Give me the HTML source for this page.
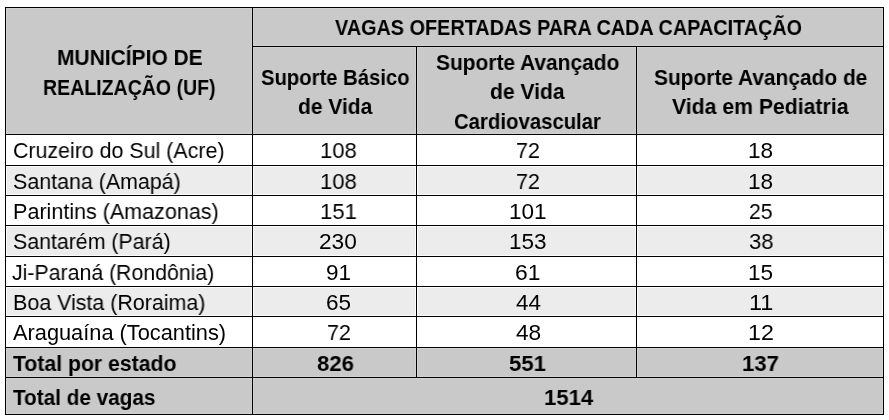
<!DOCTYPE html>
<html><head><meta charset="utf-8"><title>Vagas ofertadas</title>
<style>
html,body{margin:0;padding:0;background:#fff}
#p{position:relative;width:889px;height:420px;overflow:hidden;background:#fff;font-family:"Liberation Sans",sans-serif}
.c{position:absolute;box-sizing:border-box}
.l{position:absolute;background:#000}
span{will-change:transform;position:absolute;white-space:pre;line-height:1;font-size:21.0px;color:#000;transform-origin:0 0;font-family:"Liberation Sans",sans-serif}
.b{font-weight:bold}
.r{font-weight:normal}
</style></head>
<body><div id="p">
<div class="c" style="left:6px;top:8px;width:246px;height:126px;background:#c9c9c9;box-shadow:inset 0 0 0 1px #d3d3d3"></div>
<div class="c" style="left:253px;top:8px;width:630px;height:38px;background:#c9c9c9;box-shadow:inset 0 0 0 1px #d3d3d3"></div>
<div class="c" style="left:253px;top:47px;width:163px;height:87px;background:#c9c9c9;box-shadow:inset 0 0 0 1px #d3d3d3"></div>
<div class="c" style="left:417px;top:47px;width:219px;height:87px;background:#c9c9c9;box-shadow:inset 0 0 0 1px #d3d3d3"></div>
<div class="c" style="left:637px;top:47px;width:246px;height:87px;background:#c9c9c9;box-shadow:inset 0 0 0 1px #d3d3d3"></div>
<div class="c" style="left:6px;top:166px;width:246px;height:29px;background:#ececec;box-shadow:inset 0 0 0 1px #fbfbfb"></div>
<div class="c" style="left:253px;top:166px;width:163px;height:29px;background:#ececec;box-shadow:inset 0 0 0 1px #fbfbfb"></div>
<div class="c" style="left:417px;top:166px;width:219px;height:29px;background:#ececec;box-shadow:inset 0 0 0 1px #fbfbfb"></div>
<div class="c" style="left:637px;top:166px;width:246px;height:29px;background:#ececec;box-shadow:inset 0 0 0 1px #fbfbfb"></div>
<div class="c" style="left:6px;top:226px;width:246px;height:30px;background:#ececec;box-shadow:inset 0 0 0 1px #fbfbfb"></div>
<div class="c" style="left:253px;top:226px;width:163px;height:30px;background:#ececec;box-shadow:inset 0 0 0 1px #fbfbfb"></div>
<div class="c" style="left:417px;top:226px;width:219px;height:30px;background:#ececec;box-shadow:inset 0 0 0 1px #fbfbfb"></div>
<div class="c" style="left:637px;top:226px;width:246px;height:30px;background:#ececec;box-shadow:inset 0 0 0 1px #fbfbfb"></div>
<div class="c" style="left:6px;top:287px;width:246px;height:29px;background:#ececec;box-shadow:inset 0 0 0 1px #fbfbfb"></div>
<div class="c" style="left:253px;top:287px;width:163px;height:29px;background:#ececec;box-shadow:inset 0 0 0 1px #fbfbfb"></div>
<div class="c" style="left:417px;top:287px;width:219px;height:29px;background:#ececec;box-shadow:inset 0 0 0 1px #fbfbfb"></div>
<div class="c" style="left:637px;top:287px;width:246px;height:29px;background:#ececec;box-shadow:inset 0 0 0 1px #fbfbfb"></div>
<div class="c" style="left:6px;top:348px;width:246px;height:29px;background:#c9c9c9;box-shadow:inset 0 0 0 1px #d3d3d3"></div>
<div class="c" style="left:253px;top:348px;width:163px;height:29px;background:#c9c9c9;box-shadow:inset 0 0 0 1px #d3d3d3"></div>
<div class="c" style="left:417px;top:348px;width:219px;height:29px;background:#c9c9c9;box-shadow:inset 0 0 0 1px #d3d3d3"></div>
<div class="c" style="left:637px;top:348px;width:246px;height:29px;background:#c9c9c9;box-shadow:inset 0 0 0 1px #d3d3d3"></div>
<div class="c" style="left:6px;top:378px;width:246px;height:36px;background:#c9c9c9;box-shadow:inset 0 0 0 1px #d3d3d3"></div>
<div class="c" style="left:253px;top:378px;width:630px;height:36px;background:#c9c9c9;box-shadow:inset 0 0 0 1px #d3d3d3"></div>
<div class="l" style="left:5px;top:7px;width:879px;height:1px"></div>
<div class="l" style="left:252px;top:46px;width:632px;height:1px"></div>
<div class="l" style="left:5px;top:134px;width:879px;height:1px"></div>
<div class="l" style="left:5px;top:165px;width:879px;height:1px"></div>
<div class="l" style="left:5px;top:195px;width:879px;height:1px"></div>
<div class="l" style="left:5px;top:225px;width:879px;height:1px"></div>
<div class="l" style="left:5px;top:256px;width:879px;height:1px"></div>
<div class="l" style="left:5px;top:286px;width:879px;height:1px"></div>
<div class="l" style="left:5px;top:316px;width:879px;height:1px"></div>
<div class="l" style="left:5px;top:347px;width:879px;height:1px"></div>
<div class="l" style="left:5px;top:377px;width:879px;height:1px"></div>
<div class="l" style="left:5px;top:414px;width:879px;height:1px"></div>
<div class="l" style="left:5px;top:7px;width:1px;height:408px"></div>
<div class="l" style="left:883px;top:7px;width:1px;height:408px"></div>
<div class="l" style="left:252px;top:7px;width:1px;height:408px"></div>
<div class="l" style="left:416px;top:46px;width:1px;height:332px"></div>
<div class="l" style="left:636px;top:46px;width:1px;height:332px"></div>
<span class="b" style="font-size:22.6px;left:56.67px;top:47px;transform:scaleX(0.9284)">MUNICÍPIO DE</span>
<span class="b" style="font-size:22.6px;left:43.27px;top:77px;transform:scaleX(0.8647)">REALIZAÇÃO (UF)</span>
<span class="b" style="font-size:22.6px;left:335.14px;top:17px;transform:scaleX(0.8777)">VAGAS OFERTADAS PARA CADA CAPACITAÇÃO</span>
<span class="b" style="font-size:21.6px;left:261.02px;top:67px;transform:scaleX(0.9375)">Suporte Básico</span>
<span class="b" style="font-size:21.6px;left:297.74px;top:96px;transform:scaleX(0.9708)">de Vida</span>
<span class="b" style="font-size:21.6px;left:435.69px;top:52px;transform:scaleX(0.9692)">Suporte Avançado</span>
<span class="b" style="font-size:21.6px;left:489.84px;top:81px;transform:scaleX(0.9748)">de Vida</span>
<span class="b" style="font-size:21.6px;left:454.17px;top:111px;transform:scaleX(0.9421)">Cardiovascular</span>
<span class="b" style="font-size:21.6px;left:653.99px;top:67px;transform:scaleX(0.9683)">Suporte Avançado de</span>
<span class="b" style="font-size:21.6px;left:672.23px;top:96px;transform:scaleX(0.9822)">Vida em Pediatria</span>
<span class="r" style="font-size:21.6px;left:12.70px;top:140px;transform:scaleX(0.9899)">Cruzeiro do Sul (Acre)</span>
<span class="r" style="font-size:21.6px;left:12.84px;top:171px;transform:scaleX(0.9912)">Santana (Amapá)</span>
<span class="r" style="font-size:21.6px;left:12.97px;top:201px;transform:scaleX(0.9965)">Parintins (Amazonas)</span>
<span class="r" style="font-size:21.6px;left:12.85px;top:231px;transform:scaleX(0.9874)">Santarém (Pará)</span>
<span class="r" style="font-size:21.6px;left:12.38px;top:262px;transform:scaleX(0.9857)">Ji-Paraná (Rondônia)</span>
<span class="r" style="font-size:21.6px;left:13.18px;top:292px;transform:scaleX(0.9920)">Boa Vista (Roraima)</span>
<span class="r" style="font-size:21.6px;left:12.78px;top:322px;transform:scaleX(1.0085)">Araguaína (Tocantins)</span>
<span class="b" style="font-size:21.6px;left:13.09px;top:353px;transform:scaleX(0.9823)">Total por estado</span>
<span class="b" style="font-size:21.6px;left:13.10px;top:387px;transform:scaleX(0.9590)">Total de vagas</span>
<span class="r" style="font-size:22.5px;left:319.72px;top:140px;transform:scaleX(0.9810)">108</span>
<span class="r" style="font-size:22.5px;left:516.01px;top:140px;transform:scaleX(0.9553)">72</span>
<span class="r" style="font-size:22.5px;left:748.33px;top:140px;transform:scaleX(1.0040)">18</span>
<span class="r" style="font-size:22.5px;left:319.72px;top:171px;transform:scaleX(0.9810)">108</span>
<span class="r" style="font-size:22.5px;left:516.01px;top:171px;transform:scaleX(0.9553)">72</span>
<span class="r" style="font-size:22.5px;left:748.33px;top:171px;transform:scaleX(1.0040)">18</span>
<span class="r" style="font-size:22.5px;left:319.71px;top:201px;transform:scaleX(0.9832)">151</span>
<span class="r" style="font-size:22.5px;left:508.88px;top:201px;transform:scaleX(1.0005)">101</span>
<span class="r" style="font-size:22.5px;left:749.35px;top:201px;transform:scaleX(0.9422)">25</span>
<span class="r" style="font-size:22.5px;left:319.42px;top:231px;transform:scaleX(1.0064)">230</span>
<span class="r" style="font-size:22.5px;left:508.89px;top:231px;transform:scaleX(0.9979)">153</span>
<span class="r" style="font-size:22.5px;left:748.92px;top:231px;transform:scaleX(0.9792)">38</span>
<span class="r" style="font-size:22.5px;left:326.07px;top:262px;transform:scaleX(0.9914)">91</span>
<span class="r" style="font-size:22.5px;left:515.23px;top:262px;transform:scaleX(1.0159)">61</span>
<span class="r" style="font-size:22.5px;left:748.33px;top:262px;transform:scaleX(1.0038)">15</span>
<span class="r" style="font-size:22.5px;left:326.01px;top:292px;transform:scaleX(0.9918)">65</span>
<span class="r" style="font-size:22.5px;left:515.67px;top:292px;transform:scaleX(0.9869)">44</span>
<span class="r" style="font-size:22.5px;left:748.71px;top:292px;transform:scaleX(1.0400)">11</span>
<span class="r" style="font-size:22.5px;left:326.51px;top:322px;transform:scaleX(0.9553)">72</span>
<span class="r" style="font-size:22.5px;left:515.66px;top:322px;transform:scaleX(1.0089)">48</span>
<span class="r" style="font-size:22.5px;left:748.03px;top:322px;transform:scaleX(1.0298)">12</span>
<span class="b" style="font-size:22.5px;left:316.96px;top:353px;transform:scaleX(0.9839)">826</span>
<span class="b" style="font-size:22.5px;left:509.15px;top:353px;transform:scaleX(0.9839)">551</span>
<span class="b" style="font-size:22.5px;left:742.17px;top:353px;transform:scaleX(0.9839)">137</span>
<span class="b" style="font-size:22.5px;left:543.65px;top:387px;transform:scaleX(0.9839)">1514</span>
</div></body></html>
